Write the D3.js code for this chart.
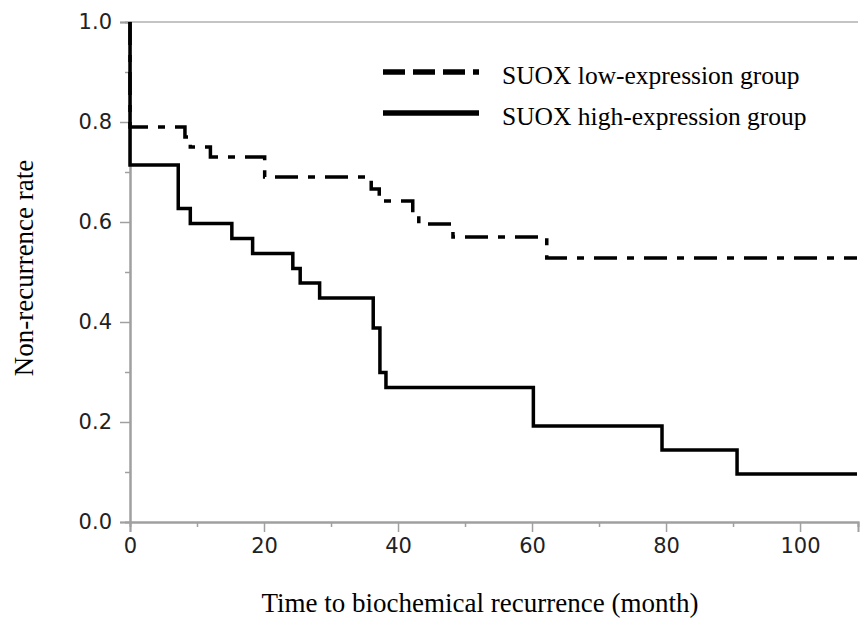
<!DOCTYPE html>
<html>
<head>
<meta charset="utf-8">
<script src="https://cdn.jsdelivr.net/npm/d3@7"></script>
<style>
  body { margin: 0; background: #fff; }
</style>
</head>
<body>
<div id="km"></div>
<script>

var margin = { top: 22, right: 4, bottom: 103, left: 130 }
var width = 862 - margin.left - margin.right
var height = 625 - margin.top - margin.bottom

// Kaplan-Meier steps: time of the drop (months) and the rate after it
var lowTimes = [0, 8.2, 9, 12, 20.1, 36, 37.2, 42.2, 43.1, 48.2, 62.2]
var lowRates = [0.79, 0.77, 0.75, 0.73, 0.69, 0.666, 0.642, 0.618, 0.596, 0.57, 0.528]
var highTimes = [0, 7.2, 9, 15.2, 18.3, 24.3, 25.4, 28.3, 36.3, 37.3, 38.2, 60.2, 79.4, 90.6]
var highRates = [0.714, 0.627, 0.597, 0.567, 0.537, 0.507, 0.478, 0.448, 0.388, 0.299, 0.269, 0.192, 0.144, 0.096]
var endTime = 108.5

var xTicks = [0, 20, 40, 60, 80, 100]
var xMinor = [10, 30, 50, 70, 90]
var yTicks = [0, 0.2, 0.4, 0.6, 0.8, 1.0]
var yMinor = [0.1, 0.3, 0.5, 0.7, 0.9]

var groups = ["SUOX low-expression group", "SUOX high-expression group"]

function steps(times, rates) {
  var pts = [{ t: 0, s: 1 }]
  times.forEach(function (t, i) { pts.push({ t: t, s: rates[i] }) })
  pts.push({ t: endTime, s: rates[rates.length - 1] })
  return pts
}

var x = d3.scaleLinear().domain([0, 108.65]).range([0, width])
var y = d3.scaleLinear().domain([0, 1]).range([height, 0])

var svg = d3.select("#km").append("svg")
  .attr("width", 862)
  .attr("height", 625)
  .append("g")
  .attr("transform", "translate(" + margin.left + "," + margin.top + ")")

// top frame line
svg.append("line")
  .attr("x1", 0).attr("x2", width)
  .attr("y1", 0).attr("y2", 0)
  .attr("stroke", "#b0b0b0")
  .attr("stroke-width", 1.5)

var tickFont = "'DejaVu Sans', Verdana, sans-serif"
var serif = "'Liberation Serif', 'Times New Roman', serif"

var yAxis = svg.append("g")
  .call(d3.axisLeft(y).tickValues(yTicks).tickFormat(d3.format(".1f")).tickSize(10).tickPadding(8))
yAxis.selectAll("text").attr("font-family", tickFont).attr("font-size", 21).attr("fill", "#222")
svg.append("g")
  .call(d3.axisLeft(y).tickValues(yMinor).tickFormat("").tickSize(5))

var xAxis = svg.append("g")
  .attr("transform", "translate(0," + height + ")")
  .call(d3.axisBottom(x).tickValues(xTicks).tickSize(10).tickPadding(6))
xAxis.selectAll("text").attr("font-family", tickFont).attr("font-size", 21).attr("fill", "#222")
svg.append("g")
  .attr("transform", "translate(0," + height + ")")
  .call(d3.axisBottom(x).tickValues(xMinor).tickFormat("").tickSize(5))

svg.selectAll(".domain").attr("stroke", "#a0a0a0").attr("stroke-width", 2)
svg.selectAll(".tick line").attr("stroke", "#a0a0a0").attr("stroke-width", 1.5)

var line = d3.line()
  .x(d => x(d.t))
  .y(d => y(d.s))
  .curve(d3.curveStepAfter)

svg.append("path")
  .datum(steps(highTimes, highRates))
  .attr("d", line)
  .attr("fill", "none")
  .attr("stroke", "#000")
  .attr("stroke-width", 3.5)

svg.append("path")
  .datum(steps(lowTimes, lowRates))
  .attr("d", line)
  .attr("fill", "none")
  .attr("stroke", "#000")
  .attr("stroke-width", 3.5)
  .attr("stroke-dasharray", "23,10,7,10")

// legend
var legend = svg.selectAll(".legend")
  .data(groups)
  .enter().append("g")
  .attr("class", "legend")
  .attr("transform", function (d, i) { return "translate(253," + (50 + i * 41) + ")" })

legend.append("line")
  .attr("x1", 0).attr("x2", 96)
  .attr("y1", 0).attr("y2", 0)
  .attr("stroke", "#000")
  .attr("stroke-width", 5.5)
  .attr("stroke-dasharray", (d, i) => i == 0 ? "22,8" : null)

legend.append("text")
  .attr("x", 119)
  .attr("y", 12)
  .attr("font-family", serif)
  .attr("font-size", 25.5)
  .attr("fill", "#000")
  .text(d => d)

svg.append("text")
  .attr("transform", "rotate(-90)")
  .attr("x", -246)
  .attr("y", -97)
  .attr("text-anchor", "middle")
  .attr("font-family", serif)
  .attr("font-size", 27)
  .text("Non-recurrence rate")

svg.append("text")
  .attr("x", 350)
  .attr("y", 590)
  .attr("text-anchor", "middle")
  .attr("font-family", serif)
  .attr("font-size", 27)
  .text("Time to biochemical recurrence (month)")

</script>
</body>
</html>
